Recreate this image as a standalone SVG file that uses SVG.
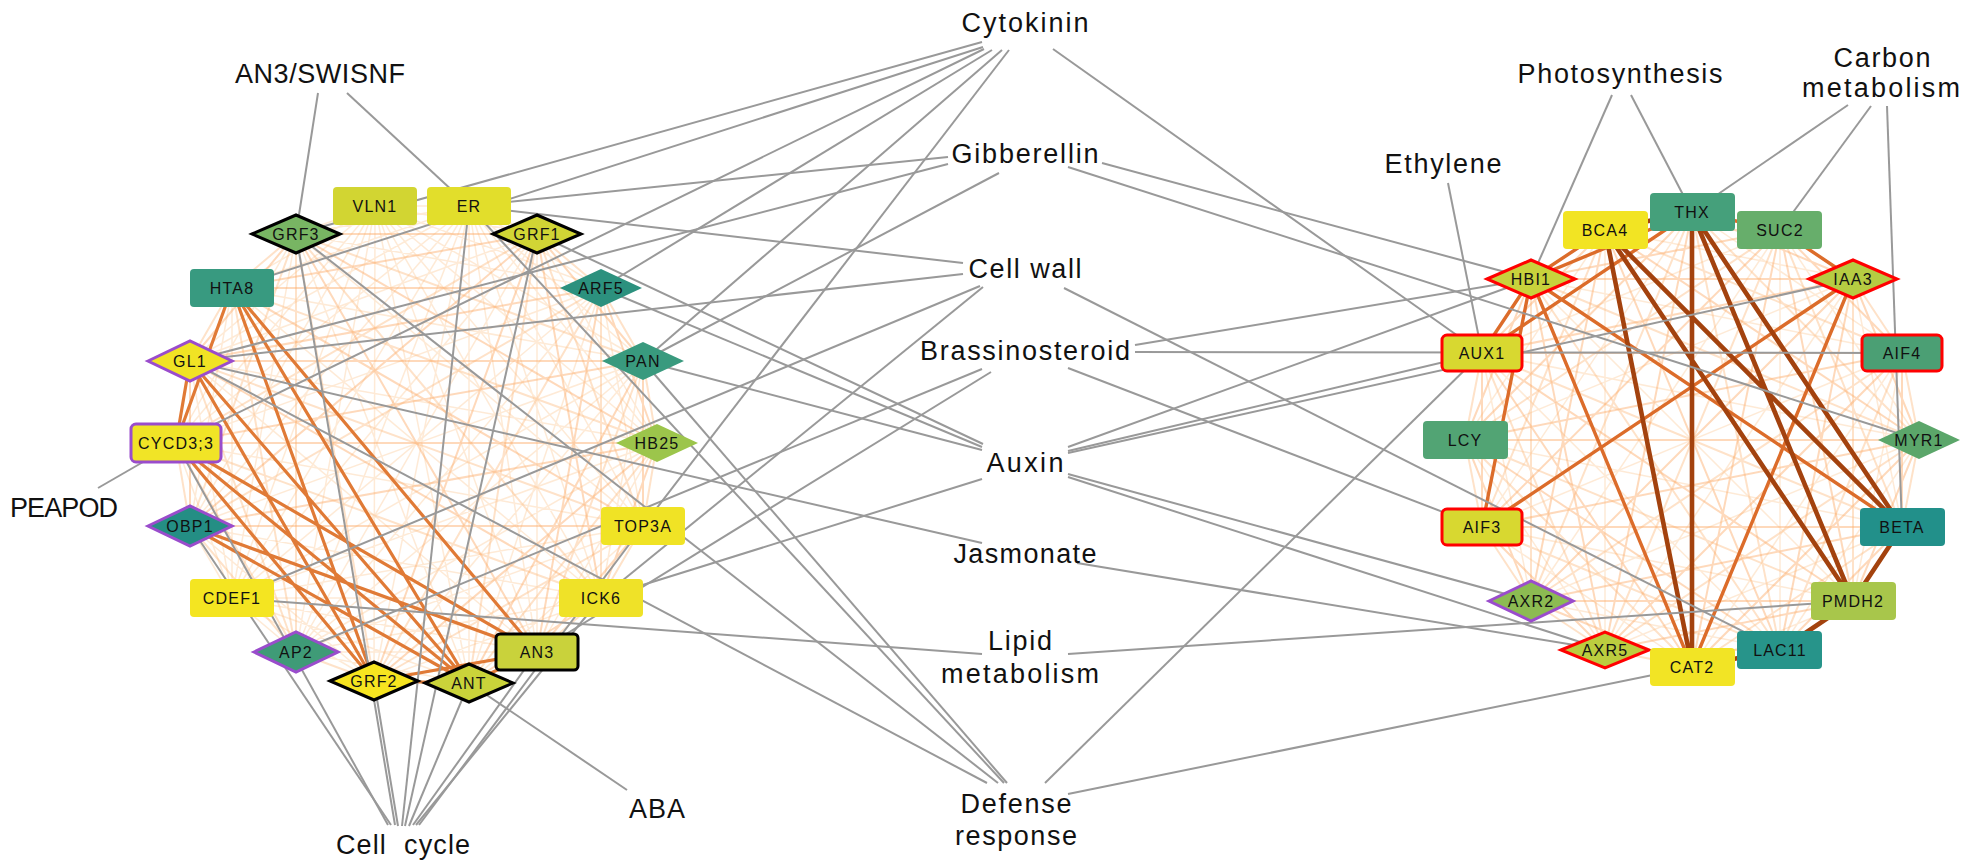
<svg xmlns="http://www.w3.org/2000/svg" width="1963" height="862" viewBox="0 0 1963 862">
<style>
.w1{fill:none;stroke:#fdd6ae;stroke-width:1.5;opacity:.5}
.w2{fill:none;stroke:#fdbf88;stroke-width:2;opacity:.45}
.w3{fill:none;stroke:#fcab68;stroke-width:2;opacity:.45}
.s{fill:none;stroke:#e07a36;stroke-width:3.2}
.s2{fill:none;stroke:#dc6c2a;stroke-width:3.4}
.d{fill:none;stroke:#a3420e;stroke-width:4.6}
.g line{stroke:#999;stroke-width:2}
.lb{font-family:"Liberation Sans",Arial,sans-serif;font-size:27px;fill:#111;text-anchor:middle}
.nt{font-family:"Liberation Sans",Arial,sans-serif;font-size:16px;letter-spacing:1.2px;fill:#111;text-anchor:middle}
.bk{stroke:#000;stroke-width:3}
.pu{stroke:#9a4ccc;stroke-width:3}
.rd{stroke:#ff0000;stroke-width:3}
</style>
<rect width="1963" height="862" fill="#fff"/>
<g id="network-edges">
<path class="w1" d="M375 206L469 206M375 206L296 234M375 206L537 234M375 206L232 288M375 206L601 288M375 206L190 361M375 206L643 361M375 206L176 443M375 206L657 443M375 206L190 526M375 206L643 526M375 206L232 598M375 206L601 598M375 206L296 652M375 206L537 652M375 206L374 681M375 206L469 683M469 206L296 234M469 206L537 234M469 206L232 288M469 206L601 288M469 206L190 361M469 206L643 361M469 206L176 443M469 206L657 443M469 206L190 526M469 206L643 526M469 206L232 598M469 206L601 598M469 206L296 652M469 206L537 652M469 206L374 681M469 206L469 683M232 598L296 234M232 598L537 234M232 598L232 288M232 598L601 288M232 598L190 361M232 598L643 361M232 598L176 443M232 598L657 443M232 598L190 526M232 598L643 526M232 598L601 598M232 598L296 652M232 598L537 652M232 598L374 681M232 598L469 683M296 652L537 234M296 652L601 288M296 652L643 361M296 652L657 443M296 652L643 526M296 652L601 598M296 652L537 652M296 652L469 683M296 234L601 288M296 234L176 443M296 234L643 526M296 234L469 683M537 234L190 361M537 234L657 443M537 234L537 652M232 288L643 361M232 288L190 526M232 288L601 598M601 288L176 443M601 288L643 526M601 288L469 683M190 361L657 443M190 361L537 652M643 361L190 526M643 361L601 598M643 361L374 681M176 443L643 526M657 443L537 652M190 526L601 598M190 526L374 681M643 526L469 683M601 598L374 681"/>
<path class="w2" d="M296 234L232 288M296 234L643 361M296 234L190 526M296 234L601 598M296 234L374 681M537 234L601 288M537 234L176 443M537 234L643 526M537 234L469 683M232 288L190 361M232 288L657 443M601 288L643 361M601 288L190 526M601 288L601 598M601 288L374 681M190 361L643 526M643 361L657 443M643 361L537 652M176 443L190 526M176 443L601 598M657 443L643 526M657 443L469 683M643 526L601 598M643 526L374 681M601 598L537 652M296 652L296 234M296 652L232 288M296 652L190 361M296 652L176 443M296 652L190 526M296 652L374 681"/>
<path class="w3" d="M296 234L537 234M296 234L190 361M296 234L657 443M296 234L537 652M537 234L232 288M537 234L643 361M537 234L190 526M537 234L601 598M537 234L374 681M232 288L601 288M232 288L643 526M601 288L190 361M601 288L657 443M601 288L537 652M190 361L643 361M190 361L190 526M190 361L601 598M643 361L176 443M643 361L643 526M643 361L469 683M176 443L657 443M657 443L190 526M657 443L601 598M657 443L374 681M190 526L643 526M643 526L537 652M601 598L469 683"/>
<path class="w1" d="M1692 212L1902 353M1692 212L1482 527M1605 230L1853 279M1605 230L1465 440M1605 230L1605 650M1780 230L1482 353M1780 230L1919 440M1780 230L1531 601M1780 230L1780 650M1531 279L1902 353M1531 279L1853 601M1853 279L1465 440M1853 279L1902 527M1853 279L1605 650M1482 353L1919 440M1482 353L1531 601M1482 353L1780 650M1902 353L1482 527M1902 353L1853 601M1902 353L1692 667M1465 440L1902 527M1465 440L1605 650M1919 440L1531 601M1919 440L1780 650M1482 527L1853 601M1482 527L1692 667M1902 527L1605 650M1531 601L1780 650M1853 601L1692 667"/>
<path class="w2" d="M1692 212L1919 440M1692 212L1531 601M1692 212L1780 650M1605 230L1902 353M1605 230L1482 527M1780 230L1465 440M1780 230L1902 527M1780 230L1605 650M1531 279L1919 440M1531 279L1531 601M1531 279L1780 650M1853 279L1902 353M1853 279L1853 601M1482 353L1465 440M1482 353L1902 527M1482 353L1605 650M1902 353L1919 440M1902 353L1531 601M1902 353L1780 650M1465 440L1482 527M1465 440L1853 601M1465 440L1692 667M1919 440L1902 527M1919 440L1605 650M1482 527L1531 601M1482 527L1780 650M1902 527L1692 667M1531 601L1605 650M1605 650L1692 667"/>
<path class="w3" d="M1692 212L1853 279M1692 212L1465 440M1692 212L1605 650M1605 230L1780 230M1605 230L1482 353M1605 230L1919 440M1605 230L1531 601M1605 230L1780 650M1780 230L1531 279M1780 230L1902 353M1780 230L1482 527M1780 230L1853 601M1780 230L1692 667M1531 279L1853 279M1531 279L1465 440M1531 279L1605 650M1853 279L1482 353M1853 279L1919 440M1853 279L1531 601M1853 279L1780 650M1482 353L1902 353M1482 353L1482 527M1482 353L1853 601M1482 353L1692 667M1902 353L1465 440M1902 353L1902 527M1902 353L1605 650M1465 440L1919 440M1465 440L1531 601M1465 440L1780 650M1919 440L1482 527M1919 440L1853 601M1919 440L1692 667M1482 527L1902 527M1482 527L1605 650M1902 527L1531 601M1902 527L1780 650M1531 601L1853 601M1531 601L1692 667M1853 601L1605 650M1605 650L1780 650"/>
<path class="s" d="M232 288L176 443M190 361L176 443M232 288L374 681M232 288L469 683M232 288L537 652M190 361L374 681M190 361L469 683M176 443L374 681M176 443L469 683M176 443L537 652M190 526L469 683M190 526L537 652M374 681L469 683M537 652L469 683M537 652L374 681"/>
<path class="s2" d="M1605 230L1531 279M1692 212L1531 279M1531 279L1482 353M1531 279L1482 527M1531 279L1692 667M1531 279L1902 527M1692 212L1482 353M1780 230L1853 279M1853 279L1482 527M1853 279L1692 667M1692 212L1780 230"/>
<path class="d" d="M1692 212L1692 667M1605 230L1692 667M1605 230L1853 601M1605 230L1902 527M1692 212L1853 601M1692 212L1902 527M1902 527L1853 601M1853 601L1780 650M1780 650L1692 667M1692 212L1605 230"/>
</g>
<g id="connectors" class="g">
<line x1="318" y1="93" x2="296" y2="234"/>
<line x1="347" y1="93" x2="469" y2="206"/>
<line x1="982" y1="42" x2="296" y2="234"/>
<line x1="983" y1="47" x2="232" y2="288"/>
<line x1="984" y1="49" x2="176" y2="443"/>
<line x1="992" y1="50" x2="601" y2="288"/>
<line x1="1002" y1="50" x2="643" y2="361"/>
<line x1="1009" y1="50" x2="643" y2="526"/>
<line x1="1053" y1="49" x2="1482" y2="353"/>
<line x1="948" y1="157" x2="469" y2="206"/>
<line x1="948" y1="164" x2="190" y2="361"/>
<line x1="999" y1="173" x2="643" y2="361"/>
<line x1="1102" y1="163" x2="1531" y2="279"/>
<line x1="1068" y1="167" x2="1919" y2="440"/>
<line x1="963" y1="263" x2="469" y2="206"/>
<line x1="963" y1="274" x2="190" y2="361"/>
<line x1="980" y1="286" x2="232" y2="598"/>
<line x1="983" y1="287" x2="601" y2="598"/>
<line x1="1064" y1="288" x2="1780" y2="650"/>
<line x1="1135" y1="345" x2="1531" y2="279"/>
<line x1="1135" y1="352" x2="1902" y2="353"/>
<line x1="982" y1="369" x2="296" y2="652"/>
<line x1="991" y1="372" x2="537" y2="652"/>
<line x1="1068" y1="368" x2="1482" y2="527"/>
<line x1="983" y1="444" x2="537" y2="234"/>
<line x1="982" y1="447" x2="601" y2="288"/>
<line x1="982" y1="450" x2="643" y2="361"/>
<line x1="982" y1="479" x2="601" y2="598"/>
<line x1="1068" y1="447" x2="1531" y2="279"/>
<line x1="1068" y1="451" x2="1482" y2="353"/>
<line x1="1068" y1="453" x2="1853" y2="279"/>
<line x1="1068" y1="474" x2="1531" y2="601"/>
<line x1="1068" y1="477" x2="1605" y2="650"/>
<line x1="982" y1="543" x2="190" y2="361"/>
<line x1="1077" y1="563" x2="1605" y2="650"/>
<line x1="982" y1="654" x2="232" y2="598"/>
<line x1="1068" y1="654" x2="1853" y2="601"/>
<line x1="987" y1="783" x2="190" y2="361"/>
<line x1="998" y1="783" x2="296" y2="234"/>
<line x1="1004" y1="783" x2="469" y2="206"/>
<line x1="1007" y1="783" x2="643" y2="361"/>
<line x1="1045" y1="783" x2="1482" y2="353"/>
<line x1="1068" y1="794" x2="1692" y2="667"/>
<line x1="1448" y1="183" x2="1482" y2="353"/>
<line x1="1612" y1="95" x2="1531" y2="279"/>
<line x1="1631" y1="95" x2="1692" y2="212"/>
<line x1="1848" y1="105" x2="1692" y2="212"/>
<line x1="1871" y1="106" x2="1780" y2="230"/>
<line x1="1887" y1="106" x2="1902" y2="527"/>
<line x1="98" y1="488" x2="176" y2="443"/>
<line x1="627" y1="790" x2="469" y2="683"/>
<line x1="388" y1="825" x2="176" y2="443"/>
<line x1="391" y1="825" x2="190" y2="526"/>
<line x1="395" y1="825" x2="296" y2="234"/>
<line x1="398" y1="826" x2="374" y2="681"/>
<line x1="402" y1="826" x2="469" y2="206"/>
<line x1="405" y1="826" x2="537" y2="234"/>
<line x1="409" y1="826" x2="469" y2="683"/>
<line x1="413" y1="825" x2="537" y2="652"/>
<line x1="416" y1="825" x2="601" y2="598"/>
<line x1="419" y1="825" x2="643" y2="526"/>
</g>
<g id="labels">
<text class="lb" x="320" y="83" textLength="170">AN3/SWISNF</text>
<text class="lb" x="1025" y="32" textLength="127">Cytokinin</text>
<text class="lb" x="1025" y="163" textLength="147">Gibberellin</text>
<text class="lb" x="1025" y="278" textLength="113">Cell wall</text>
<text class="lb" x="1025" y="360" textLength="210">Brassinosteroid</text>
<text class="lb" x="1025" y="472" textLength="77">Auxin</text>
<text class="lb" x="1025" y="563" textLength="143">Jasmonate</text>
<text class="lb" x="1020" y="650" textLength="64">Lipid</text>
<text class="lb" x="1020" y="683" textLength="158">metabolism</text>
<text class="lb" x="1016" y="813" textLength="111">Defense</text>
<text class="lb" x="1016" y="845" textLength="122">response</text>
<text class="lb" x="64" y="517" textLength="108">PEAPOD</text>
<text class="lb" x="657" y="818" textLength="56">ABA</text>
<text class="lb" x="403" y="854" textLength="134" xml:space="preserve" style="white-space:pre">Cell  cycle</text>
<text class="lb" x="1443" y="173" textLength="117">Ethylene</text>
<text class="lb" x="1620" y="83" textLength="205">Photosynthesis</text>
<text class="lb" x="1882" y="67" textLength="97">Carbon</text>
<text class="lb" x="1881" y="97" textLength="158">metabolism</text>
</g>
<g id="n-VLN1"><rect x="333" y="187" width="84" height="38" rx="4" fill="#d2d532"/><text class="nt" x="375" y="212">VLN1</text></g>
<g id="n-ER"><rect x="427" y="187" width="84" height="38" rx="4" fill="#e2de2b"/><text class="nt" x="469" y="212">ER</text></g>
<g id="n-GRF3"><polygon class="bk" points="252,234 296,215 340,234 296,253" fill="#78b563"/><text class="nt" x="296" y="240">GRF3</text></g>
<g id="n-GRF1"><polygon class="bk" points="493,234 537,215 581,234 537,253" fill="#d1d535"/><text class="nt" x="537" y="240">GRF1</text></g>
<g id="n-HTA8"><rect x="190" y="269" width="84" height="38" rx="4" fill="#389a80"/><text class="nt" x="232" y="294">HTA8</text></g>
<g id="n-ARF5"><polygon points="560,288 601,269 642,288 601,307" fill="#2c917e"/><text class="nt" x="601" y="294">ARF5</text></g>
<g id="n-GL1"><polygon class="pu" points="148,361 190,341 232,361 190,381" fill="#f1e324"/><text class="nt" x="190" y="367">GL1</text></g>
<g id="n-PAN"><polygon points="602,361 643,342 684,361 643,380" fill="#399a7e"/><text class="nt" x="643" y="367">PAN</text></g>
<g id="n-CYCD3-3"><rect class="pu" x="131" y="424" width="90" height="38" rx="5" fill="#f1e426"/><text class="nt" x="176" y="449">CYCD3;3</text></g>
<g id="n-HB25"><polygon points="616,443 657,424 698,443 657,462" fill="#9cc54b"/><text class="nt" x="657" y="449">HB25</text></g>
<g id="n-OBP1"><polygon class="pu" points="148,526 190,506 232,526 190,546" fill="#248e84"/><text class="nt" x="190" y="532">OBP1</text></g>
<g id="n-TOP3A"><rect x="601" y="507" width="84" height="38" rx="4" fill="#f0e325"/><text class="nt" x="643" y="532">TOP3A</text></g>
<g id="n-CDEF1"><rect x="190" y="579" width="84" height="38" rx="4" fill="#f4e521"/><text class="nt" x="232" y="604">CDEF1</text></g>
<g id="n-ICK6"><rect x="559" y="579" width="84" height="38" rx="4" fill="#efe228"/><text class="nt" x="601" y="604">ICK6</text></g>
<g id="n-AP2"><polygon class="pu" points="254,652 296,632 338,652 296,672" fill="#3f9b77"/><text class="nt" x="296" y="658">AP2</text></g>
<g id="n-AN3"><rect class="bk" x="496" y="634" width="82" height="36" rx="4" fill="#c9d23b"/><text class="nt" x="537" y="658">AN3</text></g>
<g id="n-GRF2"><polygon class="bk" points="330,681 374,662 418,681 374,700" fill="#f6e420"/><text class="nt" x="374" y="687">GRF2</text></g>
<g id="n-ANT"><polygon class="bk" points="425,683 469,664 513,683 469,702" fill="#cad33a"/><text class="nt" x="469" y="689">ANT</text></g>
<g id="n-THX"><rect x="1650" y="193" width="85" height="38" rx="4" fill="#45a07b"/><text class="nt" x="1692" y="218">THX</text></g>
<g id="n-BCA4"><rect x="1563" y="211" width="85" height="38" rx="4" fill="#f2e423"/><text class="nt" x="1605" y="236">BCA4</text></g>
<g id="n-SUC2"><rect x="1737" y="211" width="85" height="38" rx="4" fill="#67ae6b"/><text class="nt" x="1780" y="236">SUC2</text></g>
<g id="n-HBI1"><polygon class="rd" points="1487,279 1531,260 1575,279 1531,298" fill="#c8d23c"/><text class="nt" x="1531" y="285">HBI1</text></g>
<g id="n-IAA3"><polygon class="rd" points="1809,279 1853,260 1897,279 1853,298" fill="#b6cc42"/><text class="nt" x="1853" y="285">IAA3</text></g>
<g id="n-AUX1"><rect class="rd" x="1442" y="335" width="80" height="36" rx="5" fill="#d8d830"/><text class="nt" x="1482" y="359">AUX1</text></g>
<g id="n-AIF4"><rect class="rd" x="1862" y="335" width="80" height="36" rx="5" fill="#4b9f74"/><text class="nt" x="1902" y="359">AIF4</text></g>
<g id="n-LCY"><rect x="1423" y="421" width="85" height="38" rx="4" fill="#52a474"/><text class="nt" x="1465" y="446">LCY</text></g>
<g id="n-MYR1"><polygon points="1878,440 1919,421 1960,440 1919,459" fill="#5ba66a"/><text class="nt" x="1919" y="446">MYR1</text></g>
<g id="n-AIF3"><rect class="rd" x="1442" y="509" width="80" height="36" rx="5" fill="#d8d830"/><text class="nt" x="1482" y="533">AIF3</text></g>
<g id="n-BETA"><rect x="1860" y="508" width="85" height="38" rx="4" fill="#22908a"/><text class="nt" x="1902" y="533">BETA</text></g>
<g id="n-AXR2"><polygon class="pu" points="1489,601 1531,581 1573,601 1531,621" fill="#8cbb52"/><text class="nt" x="1531" y="607">AXR2</text></g>
<g id="n-PMDH2"><rect x="1811" y="582" width="85" height="38" rx="4" fill="#a8c64b"/><text class="nt" x="1853" y="607">PMDH2</text></g>
<g id="n-AXR5"><polygon class="rd" points="1561,650 1605,632 1649,650 1605,668" fill="#bccd3f"/><text class="nt" x="1605" y="656">AXR5</text></g>
<g id="n-LAC11"><rect x="1737" y="631" width="85" height="38" rx="4" fill="#27948a"/><text class="nt" x="1780" y="656">LAC11</text></g>
<g id="n-CAT2"><rect x="1650" y="648" width="85" height="38" rx="4" fill="#f2e425"/><text class="nt" x="1692" y="673">CAT2</text></g>
</svg>
